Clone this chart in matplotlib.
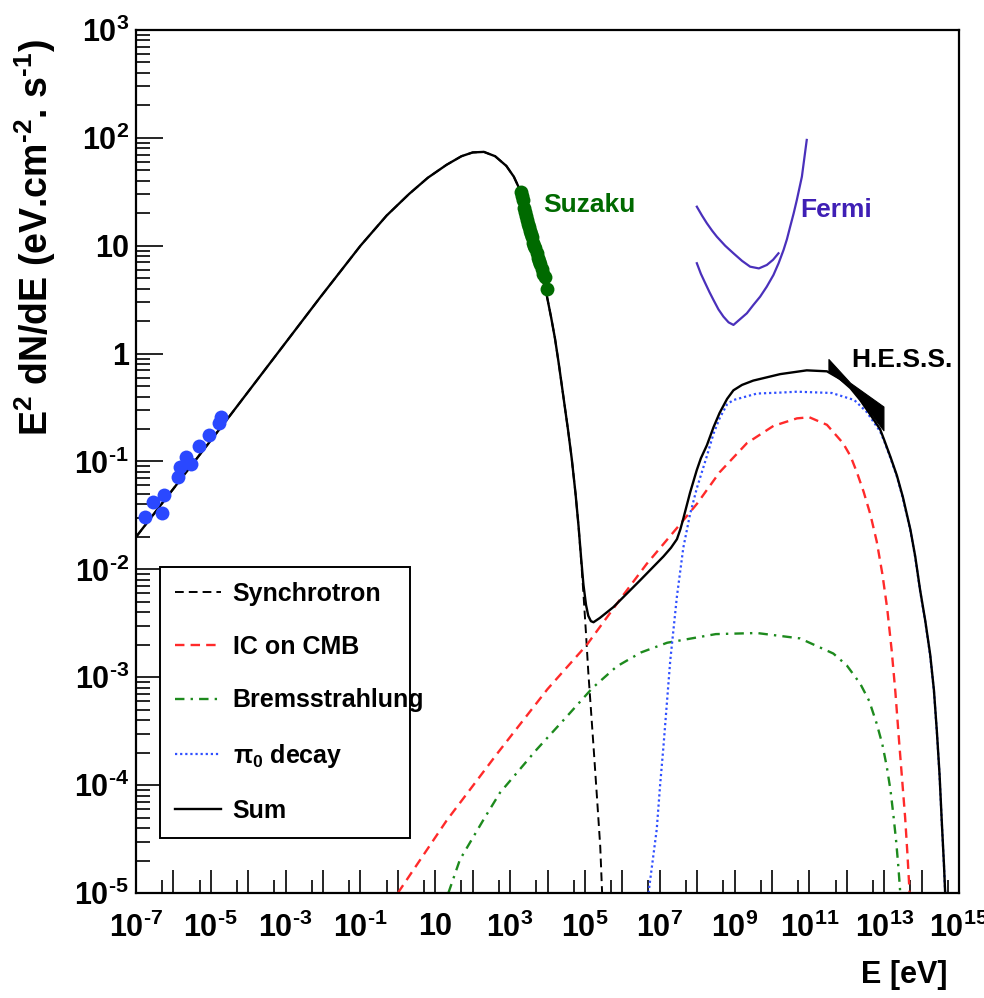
import numpy as np
import matplotlib
matplotlib.use("Agg")
import matplotlib.pyplot as plt
from matplotlib.ticker import FixedLocator, FixedFormatter, LogLocator, NullFormatter

plt.rcParams['font.family'] = ['Liberation Sans', 'DejaVu Sans']
plt.rcParams['font.weight'] = 'bold'
plt.rcParams['mathtext.default'] = 'regular'
plt.rcParams['axes.unicode_minus'] = False

HY = '\u2010'  # short hyphen used in the exponents

# ---- model curves: log10(E / eV) and log10(E^2 dN/dE / eV cm^-2 s^-1) ----
sum_logE = [-7.0, -4.575, -2.08, -1.0, -0.3, 0.3, 0.8, 1.3, 1.7, 2.0, 2.3, 2.6,
            2.9, 3.1, 3.3, 3.50, 3.70, 3.98, 4.1, 4.2, 4.3, 4.425, 4.55, 4.65, 4.75,
            4.83, 4.9, 4.96, 5.03, 5.09, 5.16, 5.23, 5.40, 5.76, 6.48, 7.10, 7.3,
            7.46, 7.55, 7.63, 7.72, 7.81, 7.99, 8.1, 8.26, 8.44, 8.6, 8.8, 8.97, 9.2,
            9.5, 10.22, 10.93, 11.47, 11.82, 12.1, 12.36, 12.6, 12.89, 13.0, 13.17,
            13.34, 13.5, 13.7, 13.83, 13.96, 14.1, 14.23, 14.33, 14.41, 14.48, 14.54,
            14.6, 14.63]
sum_logF = [-1.70, -0.614, 0.52, 1.0, 1.28, 1.48, 1.63, 1.75, 1.83, 1.865, 1.87, 1.83,
            1.74, 1.64, 1.49, 1.20, 0.93, 0.54, 0.33, 0.14, -0.09, -0.40, -0.71, -0.98, -1.30,
            -1.60, -1.90, -2.14, -2.33, -2.43, -2.48, -2.49, -2.45, -2.35, -2.10, -1.88, -1.80,
            -1.72, -1.63, -1.53, -1.41, -1.29, -1.08, -0.97, -0.85, -0.68, -0.55, -0.42, -0.34, -0.29,
            -0.25, -0.19, -0.155, -0.164, -0.234, -0.32, -0.43, -0.55, -0.70, -0.80, -0.96,
            -1.13, -1.33, -1.63, -1.88, -2.19, -2.48, -2.79, -3.12, -3.51, -3.90, -4.34,
            -4.75, -5.0]

sync_logE = [-7.0, -4.575, -2.08, -1.0, -0.3, 0.3, 0.8, 1.3, 1.7, 2.0, 2.3, 2.6,
             2.9, 3.1, 3.3, 3.50, 3.70, 3.98, 4.1, 4.2, 4.3, 4.425, 4.55, 4.65, 4.75,
             4.83, 4.9, 4.96, 5.03, 5.09, 5.23, 5.32, 5.41, 5.46]
sync_logF = [-1.70, -0.614, 0.52, 1.0, 1.28, 1.48, 1.63, 1.75, 1.83, 1.865, 1.87, 1.83,
             1.74, 1.64, 1.49, 1.20, 0.93, 0.54, 0.33, 0.14, -0.09, -0.40, -0.71, -0.98, -1.30,
             -1.60, -1.92, -2.22, -2.60, -2.95, -3.64, -4.10, -4.57, -5.0]

ic_logE = [0.0, 1.3, 2.65, 4.0, 5.05, 6.0, 6.65, 7.5, 8.0, 8.6, 9.33, 10.04, 10.67,
           11.0, 11.47, 11.9, 12.1, 12.27, 12.45, 12.63, 12.8, 12.95, 13.08, 13.2,
           13.3, 13.4, 13.48, 13.56, 13.62, 13.68]
ic_logF = [-5.0, -4.33, -3.71, -3.11, -2.70, -2.25, -1.95, -1.60, -1.39, -1.10, -0.83,
           -0.67, -0.60, -0.59, -0.66, -0.83, -0.95, -1.10, -1.28, -1.49, -1.74, -2.04,
           -2.36, -2.75, -3.14, -3.60, -3.95, -4.30, -4.63, -5.0]

brem_logE = [1.35, 1.66, 2.29, 2.73, 3.71, 4.5, 5.2, 5.85, 6.5, 7.2, 8.5, 9.6, 10.75,
             11.64, 12.0, 12.36, 12.6, 12.8, 12.95, 13.07, 13.17, 13.25, 13.32, 13.38, 13.43]
brem_logF = [-5.0, -4.69, -4.32, -4.07, -3.67, -3.37, -3.10, -2.90, -2.77, -2.68, -2.60,
             -2.59, -2.64, -2.78, -2.89, -3.06, -3.22, -3.43, -3.62, -3.83, -4.05, -4.29,
             -4.52, -4.76, -5.0]

pion_logE = [6.70, 6.92, 7.01, 7.10, 7.28, 7.46, 7.63, 7.81, 7.99, 8.26, 8.44, 8.6,
             8.8, 8.97, 9.6, 10.3, 10.67, 11.6, 12.2, 12.53, 12.89, 13.0, 13.17, 13.34,
             13.5, 13.70, 13.83, 13.96, 14.1, 14.23, 14.33, 14.41, 14.48, 14.54, 14.6, 14.63]
pion_logF = [-5.0, -4.41, -4.0, -3.64, -2.85, -2.25, -1.80, -1.49, -1.25, -0.95, -0.74,
             -0.60, -0.47, -0.43, -0.37, -0.36, -0.353, -0.365, -0.43, -0.54, -0.72, -0.81,
             -0.97, -1.14, -1.34, -1.64, -1.89, -2.20, -2.49, -2.80, -3.13, -3.52, -3.91,
             -4.35, -4.76, -5.0]

# ---- measurements ----
radio_logE = [-6.759, -6.537, -6.313, -6.251, -5.869, -5.824, -5.663, -5.537,
              -5.316, -5.048, -4.781, -4.735]
radio_logF = [-1.511, -1.372, -1.479, -1.310, -1.140, -1.047, -0.955, -1.022,
              -0.853, -0.753, -0.640, -0.584]

suzaku_logE = [3.294, 3.32, 3.348, 3.374, 3.40, 3.428, 3.455, 3.481, 3.508, 3.535,
               3.558, 3.580, 3.615, 3.64, 3.668, 3.709, 3.749, 3.775, 3.802, 3.848,
               3.883, 3.936, 3.981]
suzaku_logF = [1.499, 1.46, 1.424, 1.350, 1.31, 1.276, 1.24, 1.202, 1.17, 1.137,
               1.11, 1.082, 1.026, 1.00, 0.980, 0.933, 0.887, 0.86, 0.831, 0.785,
               0.739, 0.711, 0.600]

# Fermi sensitivity curves
fermi1_logE = [7.992, 8.13, 8.259, 8.4, 8.527, 8.75, 8.971, 9.2, 9.417, 9.65, 9.864,
               10.03, 10.174]
fermi1_logF = [1.362, 1.28, 1.209, 1.14, 1.084, 1.00, 0.930, 0.86, 0.806, 0.79, 0.822,
               0.87, 0.930]
fermi2_logE = [7.992, 8.1, 8.214, 8.33, 8.436, 8.57, 8.703, 8.84, 8.971, 9.15, 9.329,
               9.5, 9.684, 9.86, 10.04, 10.18, 10.31, 10.40, 10.487, 10.58, 10.665,
               10.80, 10.93]
fermi2_logF = [0.838, 0.74, 0.655, 0.57, 0.498, 0.41, 0.343, 0.29, 0.266, 0.32, 0.374,
               0.45, 0.528, 0.62, 0.729, 0.84, 0.961, 1.06, 1.177, 1.30, 1.424,
               1.64, 1.981]

# H.E.S.S. butterfly
hess_logE = [11.51, 12.09, 12.98]
hess_upper = [-0.05, -0.27, -0.49]
hess_lower = [-0.16, -0.31, -0.71]

x_exponents = list(range(-7, 16))
y_exponents = list(range(-5, 4))


def p10(v):
    return np.power(10.0, np.asarray(v, dtype=float))


def dec_label(n):
    if n == 0:
        return '1'
    if n == 1:
        return '10'
    exp = str(n).replace('-', HY)
    return r'$10^{%s}$' % exp


fig = plt.figure(figsize=(9.84, 9.98), dpi=100)
ax = fig.add_axes([136 / 984, 105 / 998, 823 / 984, 863 / 998])
ax.set_xscale('log')
ax.set_yscale('log')
ax.set_xlim(1e-7, 1e15)
ax.set_ylim(1e-5, 1e3)

l_sync, = ax.plot(p10(sync_logE), p10(sync_logF), color='black', lw=1.4,
                  dashes=(4.5, 2.6), label='Synchrotron')
l_ic, = ax.plot(p10(ic_logE), p10(ic_logF), color='#ff2a2a', lw=1.7,
                dashes=(4.0, 2.6), label='IC on CMB')
l_brem, = ax.plot(p10(brem_logE), p10(brem_logF), color='#1d8a1d', lw=1.7,
                  dashes=(4.0, 2.6, 1.0, 2.6), label='Bremsstrahlung')
l_pion, = ax.plot(p10(pion_logE), p10(pion_logF), color='#2f4fff', lw=1.6,
                  dashes=(1.0, 1.3), label=r'$\pi_{0}$ decay')
l_sum, = ax.plot(p10(sum_logE), p10(sum_logF), color='black', lw=1.7,
                 solid_joinstyle='round', label='Sum')

ax.plot(p10(radio_logE), p10(radio_logF), 'o', color='#2a48ff', ms=10, mec='none', zorder=5)
ax.plot(p10(suzaku_logE), p10(suzaku_logF), 'o', color='#006a00', ms=10, mec='none', zorder=5)

ax.plot(p10(fermi1_logE), p10(fermi1_logF), color='#4a30bb', lw=1.6)
ax.plot(p10(fermi2_logE), p10(fermi2_logF), color='#4a30bb', lw=1.6)

ax.fill_between(p10(hess_logE), p10(hess_lower), p10(hess_upper), color='black',
                lw=0.8, edgecolor='black', zorder=6)

ax.text(p10(3.88), p10(1.378), 'Suzaku', color='#006a00', fontsize=19,
        fontweight='bold', ha='left', va='center')
ax.text(p10(10.754), p10(1.332), 'Fermi', color='#3f1fb5', fontsize=19,
        fontweight='bold', ha='left', va='center')
ax.text(p10(12.118), p10(-0.058), 'H.E.S.S.', color='black', fontsize=19,
        fontweight='bold', ha='left', va='center')

# axes ticks
ax.xaxis.set_major_locator(FixedLocator(p10(x_exponents)))
ax.xaxis.set_major_formatter(FixedFormatter(
    [dec_label(n) if n % 2 != 0 else '' for n in x_exponents]))
ax.xaxis.set_minor_locator(FixedLocator(5 * p10(x_exponents[:-1])))
ax.xaxis.set_minor_formatter(NullFormatter())
ax.yaxis.set_major_locator(FixedLocator(p10(y_exponents)))
ax.yaxis.set_major_formatter(FixedFormatter([dec_label(n) for n in y_exponents]))
ax.yaxis.set_minor_locator(LogLocator(base=10, subs=np.arange(2, 10), numticks=50))
ax.yaxis.set_minor_formatter(NullFormatter())

ax.tick_params(axis='x', which='major', direction='in', length=16.5, width=1.2,
               labelsize=22, pad=14, top=False)
ax.tick_params(axis='x', which='minor', direction='in', length=9.5, width=1.2, top=False)
ax.tick_params(axis='y', which='major', direction='in', length=19.5, width=1.2,
               labelsize=22, pad=5, right=False)
ax.tick_params(axis='y', which='minor', direction='in', length=10, width=1.2, right=False)
for t in ax.get_xticklabels() + ax.get_yticklabels():
    t.set_fontweight('bold')

for sp in ax.spines.values():
    sp.set_linewidth(1.6)

ax.set_ylabel('E$^{2}$ dN/dE (eV.cm$^{%s2}$. s$^{%s1}$)' % (HY, HY), fontsize=27,
              fontweight='bold', ha='center', va='center')
ax.yaxis.set_label_coords(-0.1227, 0.759)
ax.set_xlabel('E [eV]', fontsize=22, fontweight='bold', ha='right', va='center')
ax.xaxis.set_label_coords(0.9866, -0.095)

leg = ax.legend(handles=[l_sync, l_ic, l_brem, l_pion, l_sum],
                loc='upper left', bbox_to_anchor=(0.0292, 0.378, 0.304, 0.0),
                mode='expand', fontsize=18, frameon=True, fancybox=False,
                edgecolor='black', framealpha=1, borderpad=0.6, labelspacing=1.17,
                handlelength=1.85, handletextpad=0.45, borderaxespad=0.0)
leg.get_frame().set_linewidth(1.4)
for t in leg.get_texts():
    t.set_fontweight('bold')

fig.savefig('out.png', dpi=100)
